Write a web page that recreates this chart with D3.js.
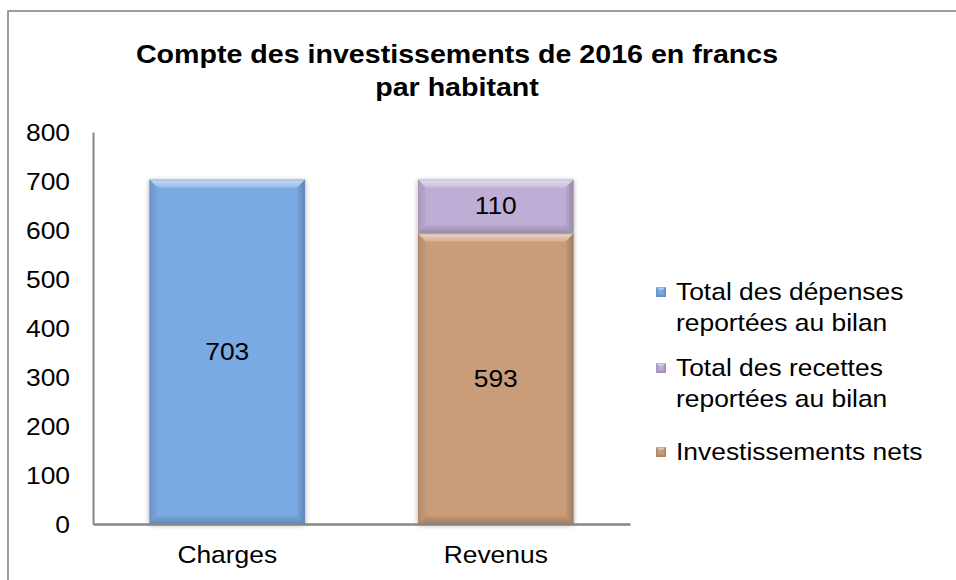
<!DOCTYPE html>
<html>
<head>
<meta charset="utf-8">
<script src="https://cdn.jsdelivr.net/npm/d3@7"></script>
<style>
  html, body { margin: 0; padding: 0; background: #ffffff; }
  svg { display: block; }
  text { font-family: "Liberation Sans", Arial, sans-serif; fill: #000; }
</style>
</head>
<body>
<svg id="chart" width="956" height="580"></svg>
<script>
// ---- Data ----
const titleLines = ["Compte des investissements de 2016 en francs", "par habitant"];
const categories = ["Charges", "Revenus"];
const seriesNames = ["Total des dépenses reportées au bilan", "Total des recettes reportées au bilan", "Investissements nets"];
const legendLines = [["Total des dépenses", "reportées au bilan"], ["Total des recettes", "reportées au bilan"], ["Investissements nets"]];
const depenses = [703, 0];
const investNets = [0, 593];
const recettes = [0, 110];
const seriesColors = ["#7aaae3", "#beadd5", "#c99d7a"];
const yTicks = [0, 100, 200, 300, 400, 500, 600, 700, 800];

// ---- Layout ----
const W = 956, H = 580;
const plot = { left: 93, right: 630, top: 132, bottom: 524 };
const SX = 1.1; // horizontal text stretch
const FS = 24;

const svg = d3.select("#chart");
const defs = svg.append("defs");

// soft shadow
const f = defs.append("filter").attr("id", "shadow").attr("x", "-10%").attr("y", "-10%").attr("width", "120%").attr("height", "120%");
f.append("feGaussianBlur").attr("in", "SourceAlpha").attr("stdDeviation", 2.5).attr("result", "b");
f.append("feOffset").attr("in", "b").attr("dx", 0).attr("dy", 1).attr("result", "o");
f.append("feComponentTransfer").attr("in", "o").attr("result", "s")
  .append("feFuncA").attr("type", "linear").attr("slope", 0.35);
const fm = f.append("feMerge");
fm.append("feMergeNode").attr("in", "s");
fm.append("feMergeNode").attr("in", "SourceGraphic");

// gradients for bevel
function lg(id, x1, y1, x2, y2, stops) {
  const g = defs.append("linearGradient").attr("id", id)
    .attr("x1", x1).attr("y1", y1).attr("x2", x2).attr("y2", y2);
  stops.forEach(s => g.append("stop").attr("offset", s[0]).attr("stop-color", s[1]).attr("stop-opacity", s[2]));
}
lg("bvTop", 0, 0, 0, 1, [[0, "#ffffff", 0.6], [1, "#ffffff", 0.2]]);
lg("bvBot", 0, 0, 0, 1, [[0, "#000000", 0.04], [1, "#000000", 0.2]]);
lg("bvLeft", 0, 0, 1, 0, [[0, "#000000", 0.12], [1, "#000000", 0.03]]);
lg("bvRight", 0, 0, 1, 0, [[0, "#000000", 0.03], [1, "#000000", 0.22]]);

// outer frame
svg.append("rect").attr("x", 8).attr("y", 11).attr("width", W + 20).attr("height", H + 20)
  .attr("fill", "#ffffff").attr("stroke", "#878787").attr("stroke-width", 1.6);

// title
svg.append("g").selectAll("text").data(titleLines).join("text")
  .attr("transform", (d, i) => `translate(457,${63 + i * 33}) scale(${SX},1)`)
  .attr("text-anchor", "middle")
  .attr("font-size", 26).attr("font-weight", "bold")
  .text(d => d);

// scales
const x = d3.scaleBand().domain(categories).range([plot.left, plot.right])
  .paddingInner(0.42).paddingOuter(0.21);
const y = d3.scaleLinear().domain([0, 800]).range([plot.bottom, plot.top]);

// stacked data
const rows = categories.map((c, i) => ({ cat: c, dep: depenses[i], inv: investNets[i], rec: recettes[i] }));
const stack = d3.stack().keys(["dep", "inv", "rec"]);
const stacked = stack(rows);
const colorByKey = { dep: seriesColors[0], rec: seriesColors[1], inv: seriesColors[2] };

function bevelBar(g, x0, y0, w, h, color, bv) {
  const grp = g.append("g");
  grp.append("rect").attr("x", x0).attr("y", y0).attr("width", w).attr("height", h).attr("fill", color);
  const b = Math.min(bv, h / 2, w / 2);
  const x1 = x0 + w, y1 = y0 + h;
  grp.append("polygon").attr("points", `${x0},${y0} ${x1},${y0} ${x1 - b},${y0 + b} ${x0 + b},${y0 + b}`).attr("fill", "url(#bvTop)");
  grp.append("polygon").attr("points", `${x0},${y1} ${x1},${y1} ${x1 - b},${y1 - b} ${x0 + b},${y1 - b}`).attr("fill", "url(#bvBot)");
  grp.append("polygon").attr("points", `${x0},${y0} ${x0 + b},${y0 + b} ${x0 + b},${y1 - b} ${x0},${y1}`).attr("fill", "url(#bvLeft)");
  grp.append("polygon").attr("points", `${x1},${y0} ${x1 - b},${y0 + b} ${x1 - b},${y1 - b} ${x1},${y1}`).attr("fill", "url(#bvRight)");
  grp.append("rect").attr("x", x0 + 0.5).attr("y", y0 + 0.5).attr("width", w - 1).attr("height", h - 1)
    .attr("fill", "none").attr("stroke", d3.color(color).darker(0.4)).attr("stroke-opacity", 0.5).attr("stroke-width", 1);
  return grp;
}

// bars
const barsG = svg.append("g");
categories.forEach((c, i) => {
  const total = depenses[i] + investNets[i] + recettes[i];
  barsG.append("rect").attr("x", x(c)).attr("y", y(total)).attr("width", x.bandwidth())
    .attr("height", y(0) - y(total)).attr("fill", "#ffffff").attr("filter", "url(#shadow)");
});
stacked.forEach(layer => {
  layer.forEach(seg => {
    const v = seg[1] - seg[0];
    if (v <= 0) return;
    const x0 = x(seg.data.cat), y0 = y(seg[1]), h = y(seg[0]) - y(seg[1]);
    bevelBar(barsG, x0, y0, x.bandwidth(), h, colorByKey[layer.key], 8);
    barsG.append("text")
      .attr("transform", `translate(${x0 + x.bandwidth() / 2},${(y(seg[0]) + y(seg[1])) / 2 + 8}) scale(${SX},1)`)
      .attr("text-anchor", "middle").attr("font-size", FS)
      .text(v);
  });
});

// y axis
const yAxis = svg.append("g").attr("transform", `translate(${plot.left},0)`)
  .call(d3.axisLeft(y).tickValues(yTicks).tickSize(0).tickPadding(23).tickFormat(d3.format("d")));
yAxis.select(".domain").attr("stroke", "#868686").attr("stroke-width", 2);
yAxis.selectAll(".tick text").attr("font-size", FS).attr("fill", "#000")
  .attr("font-family", "Liberation Sans, Arial, sans-serif")
  .attr("dy", "0.35em")
  .each(function () {
    const t = d3.select(this);
    const xx = +t.attr("x");
    t.attr("x", xx / SX).attr("transform", `scale(${SX},1)`);
  });

// x axis
const xAxis = svg.append("g").attr("transform", `translate(0,${plot.bottom})`)
  .call(d3.axisBottom(x).tickSize(0).tickPadding(22));
xAxis.select(".domain").attr("stroke", "#868686").attr("stroke-width", 2.5);
xAxis.selectAll(".tick text").attr("font-size", FS).attr("fill", "#000")
  .attr("font-family", "Liberation Sans, Arial, sans-serif")
  .attr("transform", `scale(${SX},1)`)
  .attr("dy", "0.71em");

// legend
const legendY = [300, 376, 460];
const lgG = svg.append("g");
legendLines.forEach((lines, i) => {
  bevelBar(lgG, 656, legendY[i] - 13, 10, 10, seriesColors[i], 3);
  lines.forEach((ln, j) => {
    lgG.append("text")
      .attr("transform", `translate(676,${legendY[i] + j * 31}) scale(${SX},1)`)
      .attr("font-size", FS).text(ln);
  });
});
</script>
</body>
</html>
